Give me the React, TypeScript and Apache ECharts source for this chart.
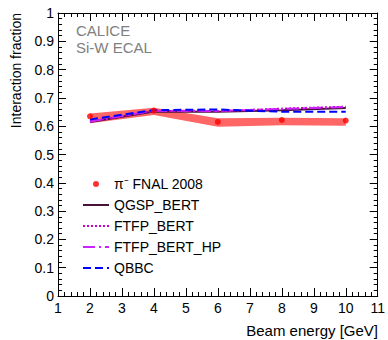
import React, { useEffect, useRef } from "react";
import * as echarts from "echarts";

const energies = [2, 4, 6, 8, 10];
const dataFNAL = [0.635, 0.655, 0.615, 0.622, 0.62];
const bandLower = [0.61, 0.64, 0.598, 0.603, 0.602];
const bandUpper = [0.645, 0.665, 0.628, 0.63, 0.628];
const qgspBert = [0.615, 0.652, 0.651, 0.656, 0.664];
const ftfpBert = [0.616, 0.654, 0.653, 0.662, 0.669];
const ftfpBertHp = [0.617, 0.655, 0.654, 0.661, 0.668];
const qbbc = [0.624, 0.657, 0.659, 0.651, 0.651];
const legendNames = ["π⁻ FNAL 2008", "QGSP_BERT", "FTFP_BERT", "FTFP_BERT_HP", "QBBC"];

const FONT = "Liberation Sans";

export default function App() {
  const ref = useRef<HTMLDivElement>(null);
  useEffect(() => {
    const chart = echarts.init(ref.current!, null, { renderer: "svg" });
    const pair = (arr: number[]) => energies.map((e, i) => [e, arr[i]]);
    const tickAxisX = (pos: string, labels: boolean) => ({
      type: "value",
      position: pos,
      min: 1,
      max: 11,
      interval: 1,
      axisLine: { show: true, onZero: false, lineStyle: { color: "#000", width: 1 } },
      axisTick: { show: true, inside: true, length: 8, lineStyle: { color: "#000" } },
      minorTick: { show: true, splitNumber: 5, length: 4, lineStyle: { color: "#000" } },
      splitLine: { show: false },
      axisLabel: { show: labels, color: "#000", fontSize: 14, fontFamily: FONT, margin: 5 },
    });
    const tickAxisY = (pos: string, labels: boolean) => ({
      type: "value",
      position: pos,
      min: 0,
      max: 1,
      interval: 0.1,
      axisLine: { show: true, onZero: false, lineStyle: { color: "#000", width: 1 } },
      axisTick: { show: true, inside: true, length: 8, lineStyle: { color: "#000" } },
      minorTick: { show: true, splitNumber: 5, length: 4, lineStyle: { color: "#000" } },
      splitLine: { show: false },
      axisLabel: {
        show: labels,
        color: "#000",
        fontSize: 14,
        fontFamily: FONT,
        margin: 4,
        formatter: (v: number) => String(Math.round(v * 10) / 10),
      },
    });
    const lineItem = (name: string) => ({ name, itemStyle: { opacity: 0 } });
    chart.setOption({
      animation: false,
      textStyle: { fontFamily: FONT },
      grid: { left: 58, top: 13, width: 320, height: 283, containLabel: false },
      xAxis: [tickAxisX("bottom", true), tickAxisX("top", false)],
      yAxis: [tickAxisY("left", true), tickAxisY("right", false)],
      legend: {
        data: [
          {
            name: legendNames[0],
            icon: "path://M0,0M26,14M10,7a3,3 0 1,0 6,0a3,3 0 1,0 -6,0z",
          },
          lineItem(legendNames[1]),
          lineItem(legendNames[2]),
          lineItem(legendNames[3]),
          lineItem(legendNames[4]),
        ],
        orient: "vertical",
        left: 82,
        top: 177,
        padding: 0,
        itemWidth: 26,
        itemHeight: 14,
        itemGap: 7,
        textStyle: { fontSize: 14, fontFamily: FONT, color: "#000" },
      },
      graphic: [
        { type: "text", left: 76, top: 23, style: { text: "CALICE", fontSize: 15, fontFamily: FONT, fill: "#808080" } },
        { type: "text", left: 76, top: 40, style: { text: "Si-W ECAL", fontSize: 15, fontFamily: FONT, fill: "#808080" } },
        {
          type: "text",
          x: 9,
          y: 13,
          rotation: Math.PI / 2,
          style: { text: "Interaction fraction", fontSize: 14, fontFamily: FONT, fill: "#000", align: "right", verticalAlign: "top" },
        },
        {
          type: "text",
          right: 10,
          top: 323,
          style: { text: "Beam energy [GeV]", fontSize: 15, fontFamily: FONT, fill: "#000" },
        },
      ],
      series: [
        {
          name: "band",
          type: "custom",
          data: energies.map((e, i) => [e, bandLower[i], bandUpper[i]]),
          silent: true,
          z: 1,
          renderItem: (params: any, api: any) => {
            if (params.dataIndex !== 0) return null;
            const top = energies.map((e, i) => api.coord([e, bandUpper[i]]));
            const bottom = energies.map((e, i) => api.coord([e, bandLower[i]])).reverse();
            return {
              type: "polygon",
              shape: { points: top.concat(bottom) },
              style: { fill: "#ff6666" },
            };
          },
        },
        {
          name: "QGSP_BERT",
          type: "line",
          data: pair(qgspBert),
          symbol: "none",
          color: "#4a1238",
          lineStyle: { color: "#4a1238", width: 2, type: "solid" },
          z: 3,
        },
        {
          name: "FTFP_BERT",
          type: "line",
          data: pair(ftfpBert),
          symbol: "none",
          color: "#cc00cc",
          lineStyle: { color: "#cc00cc", width: 2, type: [2, 2] },
          z: 3,
        },
        {
          name: "FTFP_BERT_HP",
          type: "line",
          data: pair(ftfpBertHp),
          symbol: "none",
          color: "#cc22ff",
          lineStyle: { color: "#cc22ff", width: 2, type: [12, 4, 2, 4] },
          z: 3,
        },
        {
          name: "QBBC",
          type: "line",
          data: pair(qbbc),
          symbol: "none",
          color: "#0000ff",
          lineStyle: { color: "#0000ff", width: 2, type: [8, 4] },
          z: 3,
        },
        {
          name: "π⁻ FNAL 2008",
          type: "scatter",
          data: pair(dataFNAL),
          symbol: "circle",
          symbolSize: 6,
          itemStyle: { color: "#ff0000" },
          z: 5,
        },
      ],
    });
    return () => chart.dispose();
  }, []);
  return (
    <div
      ref={ref}
      style={{ position: "fixed", left: 0, top: 0, width: 388, height: 340, background: "#fff" }}
    />
  );
}
